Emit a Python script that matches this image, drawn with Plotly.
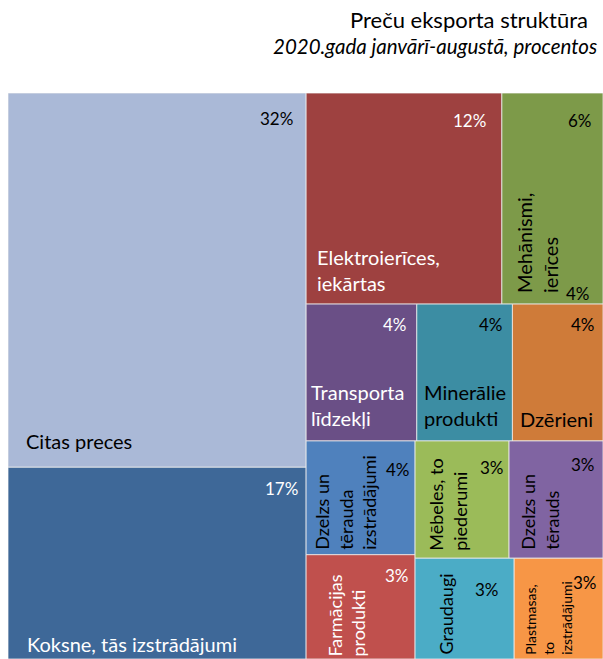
import plotly.graph_objects as go

# ---------------- data ----------------
categories = [
    "Citas preces",
    "Koksne, tās izstrādājumi",
    "Elektroierīces,<br>iekārtas",
    "Mehānismi,<br>ierīces",
    "Transporta<br>līdzekļi",
    "Minerālie<br>produkti",
    "Dzērieni",
    "Dzelzs un<br>tērauda<br>izstrādājumi",
    "Farmācijas<br>produkti",
    "Mēbeles, to<br>piederumi",
    "Dzelzs un<br>tērauds",
    "Graudaugi",
    "Plastmasas,<br>to<br>izstrādājumi",
]
shares = [32.4, 16.6, 12.0, 6.2, 4.4, 3.8, 3.6, 3.6, 3.3, 3.2, 3.2, 2.9, 2.6]
stray_label = "4%"  # extra label visible at the bottom of the "Mehānismi" cell

title = "Preču eksporta struktūra"
subtitle = "2020.gada janvārī-augustā, procentos"

# ---------------- style ----------------
colors = ["#AAB9D7", "#3E6898", "#9E4140", "#7D9A49", "#6A4F86", "#3C8DA3",
          "#CF7B39", "#4F81BD", "#C0504D", "#9BBB59", "#8064A2", "#4BACC6", "#F79646"]
white_text = [False, True, True, False, True, False, False,
              False, True, False, False, False, False]
rotated = [False, False, False, True, False, False, False,
           True, True, True, True, True, True]
name_size = [20, 20, 20, 20, 20, 20, 20, 18, 18, 18, 18, 18, 14]
name_shift = [(16, 12), (17, 1), (9, 7), (8, 9), (3, 9), (5, 9), (6, 8),
              (3, 3), (15, 0), (8, 5), (6, 6), (17, 2), (5, 2)]
pct_shift = [(-11, -13), (-6, -9), (-14, -15), (-9, -15), (-8, -8), (-7, -8), (-6, -8),
             (-3, -16), (-4, -8), (-3, -14), (-6, -11), (-13, -19), (-4, -12)]
FONT = "Lato, 'Open Sans', sans-serif"

FIG_W, FIG_H = 603, 659
ML, MR, MT, MB = 8, 0, 93, 0
W, H = FIG_W - ML - MR, FIG_H - MT - MB


# ---------------- squarified layout (Bruls et al.) ----------------
def worst(row, w):
    s = sum(row)
    return max(max(w * w * r / (s * s), (s * s) / (w * w * r)) for r in row)


def squarify(values, x, y, dx, dy):
    total = sum(values)
    areas = [v * dx * dy / total for v in values]
    rects = []
    i = 0
    while i < len(areas):
        side = min(dx, dy)
        row = [areas[i]]
        j = i + 1
        while j < len(areas) and worst(row + [areas[j]], side) <= worst(row, side):
            row.append(areas[j])
            j += 1
        s = sum(row)
        if dx >= dy:  # column on the left
            cw = s / dy
            yy = y
            for a in row:
                h = a / cw
                rects.append((x, yy, x + cw, yy + h))
                yy += h
            x += cw
            dx -= cw
        else:  # row on top
            rh = s / dx
            xx = x
            for a in row:
                wd = a / rh
                rects.append((xx, y, xx + wd, y + rh))
                xx += wd
            y += rh
            dy -= rh
        i = j
    return rects


order = sorted(range(len(shares)), key=lambda k: -shares[k])
rects_sorted = squarify([shares[k] for k in order], 0, 0, W, H)
rects = [None] * len(shares)
for k, (a, b, c, d) in zip(order, rects_sorted):
    rects[k] = (max(a, 0), max(b, 0), min(c, W), min(d, H))

fig = go.Figure()
annotations = []

for k, (x0, y0, x1, y1) in enumerate(rects):
    fig.add_trace(go.Scatter(
        x=[x0, x1, x1, x0, x0], y=[y0, y0, y1, y1, y0],
        mode="lines", fill="toself", fillcolor=colors[k],
        line=dict(color="rgba(235,235,235,0.8)", width=1),
        hoverinfo="text", hoveron="fills",
        text=f"{categories[k].replace('<br>', ' ')}: {shares[k]}%",
        showlegend=False,
    ))
    tcolor = "white" if white_text[k] else "black"
    pct = f"{int(shares[k] + 0.5)}%"
    px, py = pct_shift[k]
    annotations.append(dict(
        x=x1, y=y0, xref="x", yref="y", text=pct, showarrow=False,
        xanchor="right", yanchor="top", xshift=px, yshift=py,
        font=dict(family=FONT, size=17, color=tcolor),
    ))
    nx, ny = name_shift[k]
    annotations.append(dict(
        x=x0, y=y1, xref="x", yref="y", text=categories[k], showarrow=False,
        xanchor="left", yanchor="bottom", xshift=nx, yshift=ny,
        textangle=-90 if rotated[k] else 0,
        align="left", font=dict(family=FONT, size=name_size[k], color=tcolor),
    ))

# stray label at the bottom-right of the "Mehānismi" cell
mx0, my0, mx1, my1 = rects[3]
annotations.append(dict(
    x=mx1, y=my1, xref="x", yref="y", text=stray_label, showarrow=False,
    xanchor="right", yanchor="bottom", xshift=-11, yshift=-2,
    font=dict(family=FONT, size=17, color="black"),
))

annotations.append(dict(
    x=1, y=1, xref="paper", yref="paper", text=title, showarrow=False,
    xanchor="right", yanchor="middle", xshift=-13, yshift=74,
    font=dict(family=FONT, size=22, color="black"),
))
annotations.append(dict(
    x=1, y=1, xref="paper", yref="paper", text=f"<i>{subtitle}</i>", showarrow=False,
    xanchor="right", yanchor="middle", xshift=-4, yshift=47,
    font=dict(family=FONT, size=20.5, color="black"),
))

fig.update_layout(
    width=FIG_W, height=FIG_H,
    margin=dict(l=ML, r=MR, t=MT, b=MB, pad=0),
    paper_bgcolor="white", plot_bgcolor="white",
    xaxis=dict(range=[0, W], visible=False, fixedrange=True),
    yaxis=dict(range=[H, 0], visible=False, fixedrange=True),
    annotations=annotations,
    showlegend=False,
)

fig.write_html(
    "out.html",
    config={"displayModeBar": False},
    post_script="document.body.style.margin='0px';document.body.style.overflow='hidden';",
)
